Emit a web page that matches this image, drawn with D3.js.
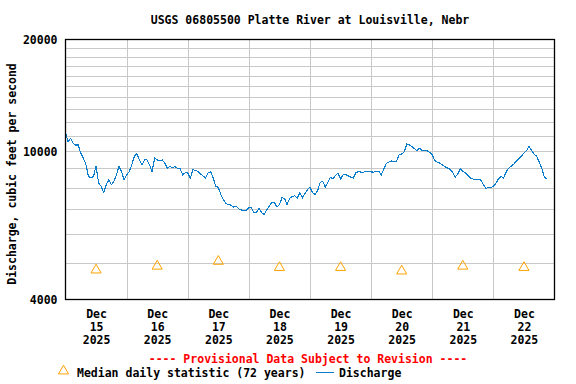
<!DOCTYPE html>
<html>
<head>
<meta charset="utf-8">
<script src="https://cdn.jsdelivr.net/npm/d3@7"></script>
<style>
  body { margin: 0; background: #fff; }
  svg text { font-family: "DejaVu Sans Mono", monospace; font-weight: bold; font-size: 11.5px; }
</style>
</head>
<body>
<svg id="chart" width="576" height="384"></svg>
<script>
const chartTitle = "USGS 06805500 Platte River at Louisville, Nebr";
const yTitle = "Discharge, cubic feet per second";
const noteText = "---- Provisional Data Subject to Revision ----";

// hourly discharge, starting Dec 15 2025 00:00
const startTime = Date.UTC(2025, 11, 15);
const discharge = [
  // Dec 15
  11270, 10620, 10840, 10520, 10410, 10410, 9890, 9590, 9240, 8570, 8480, 8570,
  9150, 8220, 8060, 7760, 8140, 8390, 8140, 8310, 8660, 9110, 8830, 8390,
  // Dec 16
  8660, 8820, 9200, 9690, 9890, 9490, 9200, 9490, 9490, 9200, 8830, 9590,
  9490, 9450, 9490, 9300, 9010, 9110, 9050, 9110, 9010, 8980, 8660, 8760,
  // Dec 17
  8760, 8480, 8930, 8900, 8830, 8700, 8600, 8480, 8760, 8830, 8480, 8060,
  8010, 7660, 7420, 7240, 7200, 7170, 7080, 7130, 7010, 6960, 6950, 6960,
  // Dec 18
  7060, 7060, 6840, 6860, 7050, 6840, 6770, 6960, 7120, 7300, 7290, 7100,
  7200, 7510, 7480, 7200, 7480, 7560, 7610, 7480, 7760, 7510, 7700, 7890,
  // Dec 19
  8030, 7740, 7660, 7850, 8260, 8310, 8030, 8260, 8530, 8430, 8620, 8760,
  8430, 8660, 8660, 8600, 8530, 8480, 8760, 8830, 8800, 8800, 8830, 8810,
  // Dec 20
  8810, 8800, 8850, 8850, 8660, 8980, 9300, 9360, 9430, 9400, 9430, 9790,
  9850, 9970, 10470, 10410, 10300, 10170, 10050, 10200, 10050, 10050, 10050, 9950,
  // Dec 21
  9790, 9450, 9360, 9300, 9200, 9110, 9020, 8950, 8800, 8520, 8700, 8980,
  8850, 8760, 8620, 8480, 8430, 8390, 8390, 8390, 8170, 7960, 7990, 8000,
  // Dec 22
  8060, 8220, 8440, 8570, 8480, 8800, 9020, 9130, 9240, 9430, 9550, 9730,
  9890, 10050, 10300, 10070, 9830, 9710, 9360, 9020, 8530, 8440
];

const dayNumbers = [15, 16, 17, 18, 19, 20, 21, 22];
const medianValues = [4800, 4915, 5065, 4875, 4875, 4770, 4915, 4875];
const yLabelTicks = [4000, 10000, 20000];
const yGridTicks = [5000, 6000, 7000, 8000, 9000, 10000, 11000, 12000, 13000,
  14000, 15000, 16000, 17000, 18000, 19000];

const HOUR = 3600e3, DAY = 24 * HOUR;
const margin = { left: 65.5, right: 554.5, top: 39.5, bottom: 299.5 };

const svg = d3.select("#chart");

const x = d3.scaleUtc()
  .domain([new Date(startTime), new Date(startTime + 8 * DAY)])
  .range([margin.left, margin.right]);
const y = d3.scaleLog()
  .domain([4000, 20000])
  .range([margin.bottom, margin.top]);

const gridColor = "#c8c8c8";

// horizontal grid
svg.append("g")
  .attr("transform", `translate(${margin.left},0)`)
  .call(d3.axisLeft(y).tickValues(yGridTicks).tickFormat("")
    .tickSize(-(margin.right - margin.left)))
  .call(g => g.select(".domain").remove())
  .call(g => g.selectAll("line").attr("stroke", gridColor)
    .attr("shape-rendering", "crispEdges"));

// vertical grid at midnight
const midnights = dayNumbers.slice(1).map((d, i) => new Date(startTime + (i + 1) * DAY));
svg.append("g")
  .attr("transform", `translate(0,${margin.bottom})`)
  .call(d3.axisBottom(x).tickValues(midnights).tickFormat("")
    .tickSize(-(margin.bottom - margin.top)))
  .call(g => g.select(".domain").remove())
  .call(g => g.selectAll("line").attr("stroke", gridColor)
    .attr("shape-rendering", "crispEdges"));

// y labels
svg.append("g")
  .attr("transform", `translate(${margin.left - 8},0)`)
  .call(d3.axisLeft(y).tickValues(yLabelTicks).tickFormat(d3.format("d")).tickSize(0))
  .call(g => g.select(".domain").remove())
  .call(g => g.selectAll("text").attr("x", 0).attr("dy", "0.35em")
    .attr("fill", "#000").style("font-size", null).style("font-family", null));

// x labels at noon
const noons = dayNumbers.map((d, i) => new Date(startTime + i * DAY + 12 * HOUR));
const xLab = svg.append("g")
  .attr("transform", `translate(0,${margin.bottom})`)
  .call(d3.axisBottom(x).tickValues(noons).tickSize(0).tickFormat(""))
  .call(g => g.select(".domain").remove());
xLab.selectAll(".tick text").each(function(d, i) {
  const t = d3.select(this).attr("y", 0).attr("dy", null).attr("fill", "#000")
    .style("font-size", null).style("font-family", null);
  ["Dec", String(dayNumbers[i]), "2025"].forEach((s, k) => {
    t.append("tspan").attr("x", 0).attr("y", 18.5 + k * 13).text(s);
  });
});

// discharge line
const lineColor = "#0a7ccc";
const line = d3.line()
  .x((d, i) => x(new Date(startTime + i * HOUR)))
  .y(d => y(d));
svg.append("path")
  .datum(discharge)
  .attr("fill", "none")
  .attr("stroke", lineColor)
  .attr("stroke-width", 1.1)
  .attr("shape-rendering", "crispEdges")
  .attr("d", line);

// median triangles
const triColor = "#ffa200";
const tri = d3.symbol(d3.symbolTriangle, 44);
svg.append("g").selectAll("path")
  .data(medianValues)
  .join("path")
  .attr("d", tri)
  .attr("transform", (d, i) => `translate(${x(noons[i])},${y(d)})`)
  .attr("fill", "none")
  .attr("stroke", triColor)
  .attr("stroke-width", 1);

// frame
svg.append("rect")
  .attr("x", margin.left).attr("y", margin.top)
  .attr("width", margin.right - margin.left)
  .attr("height", margin.bottom - margin.top)
  .attr("fill", "none").attr("stroke", "#000").attr("stroke-width", 1.3);

// titles
svg.append("text")
  .attr("x", (margin.left + margin.right) / 2).attr("y", 24)
  .attr("text-anchor", "middle").text(chartTitle);

svg.append("text")
  .attr("transform", `translate(16,174) rotate(-90)`)
  .attr("text-anchor", "middle").text(yTitle);

svg.append("text")
  .attr("x", 308).attr("y", 363)
  .attr("text-anchor", "middle").attr("fill", "#ff0000").text(noteText);

// legend
const legend = svg.append("g").attr("transform", "translate(0,373)");
legend.append("path").attr("d", tri)
  .attr("transform", "translate(63.5,-2)")
  .attr("fill", "none").attr("stroke", triColor);
legend.append("text").attr("x", 77).attr("y", 4).text("Median daily statistic (72 years)");
legend.append("line").attr("x1", 316).attr("x2", 334).attr("y1", -0.5).attr("y2", -0.5)
  .attr("stroke", lineColor);
legend.append("text").attr("x", 339).attr("y", 4).text("Discharge");
</script>
</body>
</html>
